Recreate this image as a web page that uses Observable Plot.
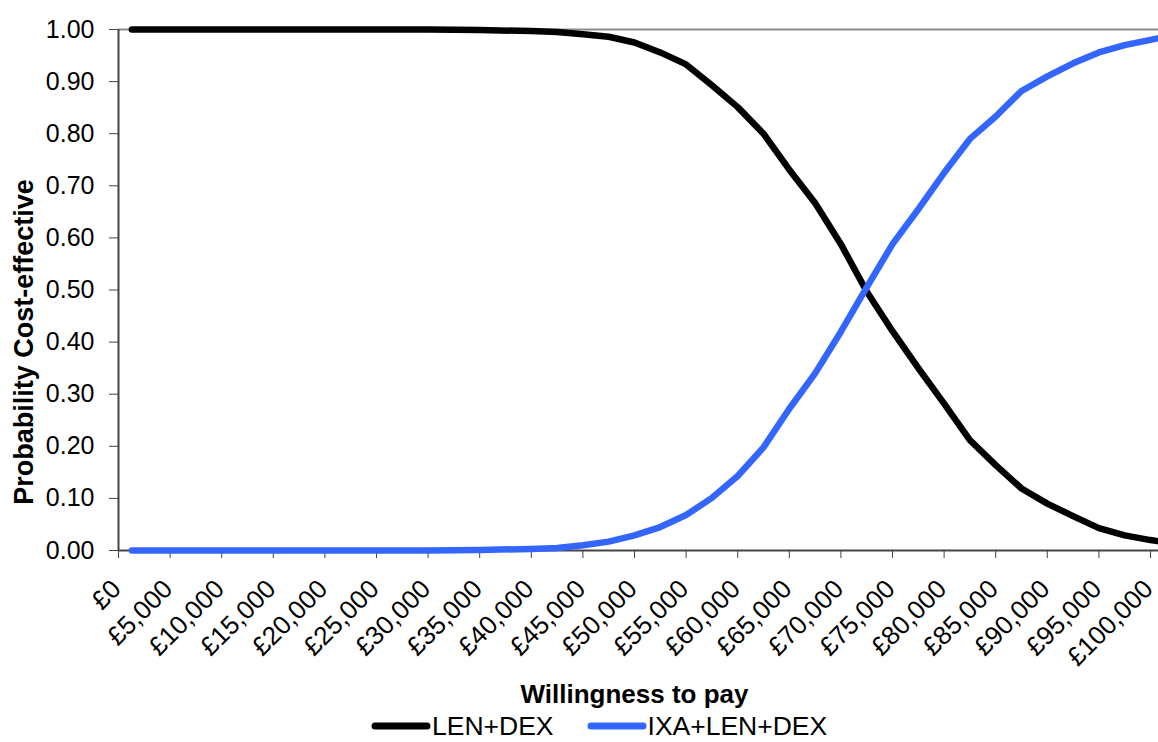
<!DOCTYPE html>
<html>
<head>
<meta charset="utf-8">
<script src="https://cdn.jsdelivr.net/npm/d3@7"></script>
<script src="https://cdn.jsdelivr.net/npm/@observablehq/plot@0.6"></script>
<style>
  body { margin: 0; background: #fff; font-family: "Liberation Sans", Arial, sans-serif; }
  #wrap { position: relative; width: 1158px; height: 742px; }
  #legend { position: absolute; left: 370px; top: 716px; height: 20px; line-height: 20px; display: flex; align-items: center; font-size: 26.5px; color: #000; }
  .item { display: flex; align-items: center; }
  .item svg { display: block; }
</style>
</head>
<body>
<div id="wrap">
  <div id="chart"></div>
  <div id="legend"></div>
</div>
<script>
// Willingness to pay (£)
const wtp = [1300, 5000, 10000, 15000, 20000, 25000, 30000, 35000, 40000, 42500, 45000, 47500, 50000, 52500, 55000, 57500, 60000, 62500, 65000, 67500, 70000, 72500, 75000, 77500, 80000, 82500, 85000, 87500, 90000, 92500, 95000, 97500, 100000, 100700];
// Probability cost-effective
const lenDex = [1, 1, 1, 1, 1, 1, 1, 0.999, 0.997, 0.995, 0.991, 0.986, 0.975, 0.956, 0.933, 0.893, 0.851, 0.800, 0.731, 0.667, 0.588, 0.497, 0.421, 0.350, 0.282, 0.212, 0.164, 0.119, 0.090, 0.066, 0.043, 0.029, 0.020, 0.018];
const ixaLenDex = [0, 0, 0, 0, 0, 0, 0, 0.001, 0.003, 0.005, 0.010, 0.017, 0.029, 0.045, 0.068, 0.101, 0.143, 0.198, 0.272, 0.340, 0.420, 0.505, 0.588, 0.655, 0.725, 0.790, 0.833, 0.882, 0.910, 0.935, 0.956, 0.970, 0.980, 0.983];
const seriesNames = ["LEN+DEX", "IXA+LEN+DEX"];
const seriesColors = ["#000000", "#3366ff"];
const xTicks = [0, 5000, 10000, 15000, 20000, 25000, 30000, 35000, 40000, 45000, 50000, 55000, 60000, 65000, 70000, 75000, 80000, 85000, 90000, 95000, 100000];
const yTicks = [0, 0.1, 0.2, 0.3, 0.4, 0.5, 0.6, 0.7, 0.8, 0.9, 1.0];
const xTitle = "Willingness to pay";
const yTitle = "Probability Cost-effective";

const rowsA = wtp.map((w, i) => ({ w, p: lenDex[i] }));
const rowsB = wtp.map((w, i) => ({ w, p: ixaLenDex[i] }));
const fmtX = v => "£" + d3.format(",")(v);
const font = "'Liberation Sans', Arial, sans-serif";

const chart = Plot.plot({
  width: 1158,
  height: 712,
  marginLeft: 118,
  marginRight: 8,
  marginTop: 29,
  marginBottom: 162,
  x: { domain: [0, 100000] },
  y: { domain: [0, 1] },
  style: { fontFamily: font, fontSize: "25px", color: "#000", background: "#fff", overflow: "visible" },
  marks: [
    Plot.ruleY([1], { x1: () => 0, x2: () => 100800, stroke: "#8c8c8c", strokeWidth: 2 }),
    Plot.axisY({ ticks: yTicks, tickFormat: d3.format(".2f"), tickSize: 9, tickPadding: 15, label: null, fontSize: 25, stroke: "#444" }),
    Plot.axisX({ ticks: xTicks, tickSize: 8, tickFormat: () => "", label: null, stroke: "#444" }),
    Plot.ruleX([0], { y1: () => 0, y2: () => 1, stroke: "#444", strokeWidth: 2 }),
    Plot.ruleY([0], { x1: () => 0, x2: () => 100800, stroke: "#444", strokeWidth: 2 }),
    Plot.text(xTicks.map(v => ({ v })), { x: "v", y: () => 0, text: d => fmtX(d.v), rotate: -45, textAnchor: "end", lineAnchor: "bottom", dx: 4, dy: 40, fontSize: 26 }),
    Plot.line(rowsA, { x: "w", y: "p", stroke: seriesColors[0], strokeWidth: 6.5, strokeLinejoin: "round", strokeLinecap: "round" }),
    Plot.line(rowsB, { x: "w", y: "p", stroke: seriesColors[1], strokeWidth: 6.5, strokeLinejoin: "round", strokeLinecap: "round" }),
    Plot.text([xTitle], { frameAnchor: "bottom", text: d => d, textAnchor: "middle", lineAnchor: "bottom", dy: 152, fontSize: 26, fontWeight: "bold" }),
    Plot.text([yTitle], { frameAnchor: "left", text: d => d, rotate: -90, textAnchor: "middle", lineAnchor: "bottom", dx: -86, dy: 52, fontSize: 27, fontWeight: "bold" })
  ]
});
document.getElementById("chart").appendChild(chart);

const legend = document.getElementById("legend");
seriesNames.forEach((name, i) => {
  const item = document.createElement("div");
  item.className = "item";
  item.style.marginRight = i === 0 ? "32px" : "0";
  item.innerHTML = `<svg width="62" height="12"><line x1="5" y1="6" x2="57" y2="6" stroke="${seriesColors[i]}" stroke-width="7" stroke-linecap="round"/></svg><span>${name}</span>`;
  legend.appendChild(item);
});
</script>
</body>
</html>
